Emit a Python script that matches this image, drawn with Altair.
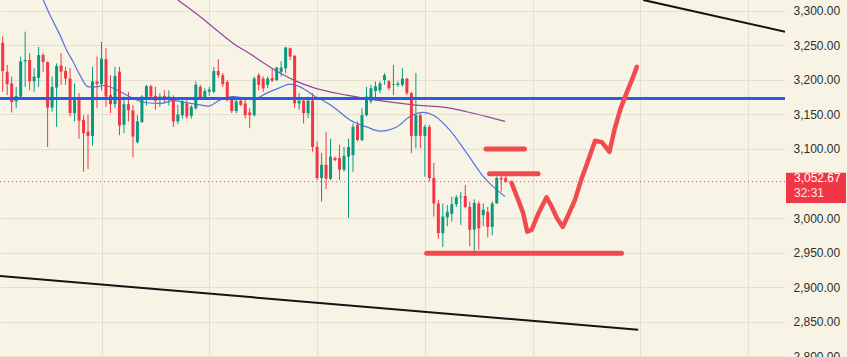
import altair as alt
import pandas as pd

# ---------------- data ----------------
opens = [3254,3212,3195,3169,3176,3227,3229,3198,3203,3236,3226,3160,3189,3221,3213,3202,3152,3173,3142,3125,
         3119,3198,3194,3230,3178,3165,3212,3135,3165,3156,3110,3139,3174,3191,3177,3171,3177,3173,3174,3140,
         3149,3166,3148,3159,3190,3174,3183,3183,3213,3207,3197,3172,3155,3170,3166,3153,3149,3207,3202,3193,
         3203,3200,3212,3217,3246,3235,3166,3170,3152,3170,3103,3058,3077,3057,3087,3087,3070,3089,3091,3135,
         3113,3149,3169,3184,3185,3200,3198,3193,3193,3193,3202,3181,3119,3149,3119,3132,3058,3021,2978,3001,
         3006,3020,3030,3032,3016,2983,3021,3004,3009,2987,3021,3058,3058]
highs = [3263,3222,3205,3190,3234,3270,3239,3217,3248,3239,3227,3205,3224,3239,3219,3217,3195,3181,3149,3150,
         3219,3234,3255,3246,3207,3219,3219,3176,3183,3164,3149,3178,3193,3193,3190,3181,3185,3185,3178,3164,
         3171,3171,3164,3198,3193,3188,3190,3219,3230,3210,3200,3176,3171,3171,3171,3159,3205,3210,3205,3205,
         3217,3219,3227,3248,3247,3236,3181,3171,3176,3181,3111,3094,3125,3115,3089,3106,3103,3115,3137,3140,
         3159,3190,3193,3198,3198,3210,3200,3222,3198,3217,3203,3183,3210,3152,3135,3135,3080,3026,3021,3019,
         3031,3033,3038,3048,3024,3027,3024,3021,3016,3024,3060,3062,3062]
lows = [3183,3178,3153,3159,3174,3190,3185,3183,3190,3212,3103,3154,3132,3193,3193,3147,3140,3115,3067,3071,
        3105,3159,3185,3161,3152,3159,3120,3123,3140,3088,3108,3138,3163,3171,3157,3161,3166,3163,3132,3136,
        3144,3144,3144,3157,3172,3171,3177,3181,3203,3190,3169,3152,3152,3162,3144,3130,3147,3185,3183,3188,
        3197,3198,3205,3210,3229,3159,3157,3137,3145,3096,3055,3024,3042,3055,3082,3055,3067,3000,3067,3111,
        3111,3147,3166,3170,3181,3193,3185,3178,3190,3190,3178,3094,3101,3101,3060,3053,3002,2970,2958,2988,
        2995,3016,2990,3014,2959,2945,2954,2988,2972,2975,3021,3038,3051]
closes = [3213,3194,3168,3177,3227,3229,3198,3205,3236,3226,3160,3190,3220,3212,3202,3152,3173,3141,3123,3119,
          3198,3194,3231,3176,3165,3206,3134,3165,3156,3118,3140,3176,3191,3176,3170,3176,3172,3176,3140,3150,
          3169,3147,3161,3193,3174,3184,3186,3213,3207,3194,3172,3155,3169,3164,3149,3149,3202,3193,3188,3202,
          3199,3218,3218,3247,3234,3166,3170,3152,3170,3103,3058,3077,3057,3089,3084,3070,3090,3103,3132,3113,
          3149,3176,3188,3191,3195,3207,3188,3194,3195,3202,3181,3119,3149,3119,3132,3058,3021,2978,3002,3009,
          3020,3030,3031,3016,2983,3022,2985,3012,2987,3021,3058,3056,3052.67]

# moving averages (bar index, price)
ma_fast_idx = [9.04,10.53,12.76,14.25,15.72,17.21,19.06,20.93,22.40,24.63,27.61,29.84,32.06,35.03,37.99,40.97,
               43.93,45.78,48.39,51.35,52.84,55.80,58.78,61.75,63.97,66.20,69.16,73.61,77.33,81.05,84.01,87.73,
               90.69,93.65,95.88,99.60,103.32,107.02,109.63,111.86]
ma_fast_val = [3316,3294,3265,3243,3226,3207,3190,3190,3192,3188,3178,3171,3167,3166,3170,3167,
               3164,3162,3171,3176,3175,3172,3181,3189,3194,3190,3178,3161,3142,3132,3126,3132,
               3147,3153,3149,3127,3094,3060,3043,3031]
ma_slow_idx = [38.97,43.93,47.65,51.35,55.07,58.03,61.75,65.46,69.16,76.60,84.01,91.43,98.86,103.32,107.77,111.86]
ma_slow_val = [3316,3292,3272,3253,3238,3225,3210,3198,3189,3178,3170,3164,3160,3154,3147,3140]

# horizontal levels
level_blue = 3173
last_price = 3052.67
last_price_text = "3,052.67"
countdown_text = "32:31"

# drawn red segments: start bar, end bar, price
seg_x1 = [107.6, 108.4, 94.4]
seg_x2 = [116.2, 119.2, 137.8]
seg_y = [3100, 3064, 2949]

# hand-drawn projection path
path_idx = [113.3,114.8,115.9,116.8,117.8,119.3,121.1,122.2,123.4,124.7,125.9,127.4,128.9,130.4,131.9,
            133.4,135.1,136.3,137.5,138.9,140.4,141.2]
path_val = [3051,3026,3007,2980,2983,3007,3030,3017,3000,2987,3004,3026,3057,3084,3112,3110,3096,3130,
            3157,3181,3205,3219]

# trend lines
trend_upper_idx = [142.6, 174.2]
trend_upper_val = [3316, 3270]
trend_lower_idx = [-0.6, 141.5]
trend_lower_val = [2916, 2838]

y_ticks = [2800, 2850, 2900, 2950, 3000, 3100, 3150, 3200, 3250, 3300]
x_grid = [22, 46, 70, 94, 118, 142, 166]

# ---------------- styling ----------------
BG = "#F8F4E5"
GRID = "#E4E0CE"
UP = "#089981"
DOWN = "#F23645"
DRAW_RED = "#F24B4F"

X_DOM = [-0.601, 174.19]
Y_DOM = [2798.6, 3315.9]

candles = pd.DataFrame({"idx": list(range(len(opens))), "open": opens, "high": highs,
                        "low": lows, "close": closes})
candles["dir"] = ["up" if c >= o else "down" for o, c in zip(opens, closes)]

xs = alt.Scale(domain=X_DOM, nice=False, zero=False)
ys = alt.Scale(domain=Y_DOM, nice=False, zero=False)
col = alt.Color("dir:N", scale=alt.Scale(domain=["up", "down"], range=[UP, DOWN]), legend=None)

x_axis = alt.Axis(values=x_grid, labels=False, ticks=False, domain=False, grid=True,
                  gridColor=GRID, title=None)
y_axis = alt.Axis(values=y_ticks, orient="right", format=",.2f", labels=True, ticks=False,
                  domain=False, grid=True, gridColor=GRID, labelPadding=8, labelFontSize=12,
                  labelFont="Liberation Sans", labelColor="#2E2E2E", title=None,
                  labelOverlap=False, labelBound=False, labelFlush=False)


def X(field):
    return alt.X(field, scale=xs, axis=x_axis)


def Y(field):
    return alt.Y(field, scale=ys, axis=y_axis)


base = alt.Chart(candles)

wicks = base.mark_rule(strokeWidth=1).encode(
    x=X("idx:Q"), y=Y("low:Q"), y2="high:Q", color=col)
bodies = base.mark_rule(strokeWidth=3, strokeCap="butt").encode(
    x=X("idx:Q"), y=Y("open:Q"), y2="close:Q", color=col)

ma_fast = alt.Chart(pd.DataFrame({"idx": ma_fast_idx, "v": ma_fast_val})).mark_line(
    color="#5374DE", strokeWidth=1.2, clip=True, interpolate="monotone").encode(
    x=X("idx:Q"), y=Y("v:Q"))
ma_slow = alt.Chart(pd.DataFrame({"idx": ma_slow_idx, "v": ma_slow_val})).mark_line(
    color="#93479A", strokeWidth=1.2, clip=True, interpolate="monotone").encode(
    x=X("idx:Q"), y=Y("v:Q"))

blue_level = alt.Chart(pd.DataFrame({"v": [level_blue]})).mark_rule(
    color="#2B5BDE", strokeWidth=3).encode(y=Y("v:Q"))
price_line = alt.Chart(pd.DataFrame({"v": [last_price]})).mark_rule(
    color=DOWN, strokeWidth=1, strokeDash=[1, 3]).encode(y=Y("v:Q"))

segs = alt.Chart(pd.DataFrame({"x1": seg_x1, "x2": seg_x2, "y": seg_y})).mark_rule(
    color=DRAW_RED, strokeWidth=5, strokeCap="round").encode(
    x=X("x1:Q"), x2="x2:Q", y=Y("y:Q"))

path = alt.Chart(pd.DataFrame({"idx": path_idx, "v": path_val, "o": list(range(len(path_idx)))})).mark_line(
    color=DRAW_RED, strokeWidth=4.5, strokeCap="round", strokeJoin="round").encode(
    x=X("idx:Q"), y=Y("v:Q"), order="o:Q")

tr_up = alt.Chart(pd.DataFrame({"idx": trend_upper_idx, "v": trend_upper_val})).mark_line(
    color="#141414", strokeWidth=2, clip=True).encode(x=X("idx:Q"), y=Y("v:Q"))
tr_lo = alt.Chart(pd.DataFrame({"idx": trend_lower_idx, "v": trend_lower_val})).mark_line(
    color="#141414", strokeWidth=2, clip=True).encode(x=X("idx:Q"), y=Y("v:Q"))

lab_df = pd.DataFrame({"p": [last_price], "top": [last_price + 13], "bot": [last_price - 31],
                       "t1": [last_price_text], "t2": [countdown_text]})
lab_box = alt.Chart(lab_df).mark_rect(color=DOWN).encode(
    x=alt.value(786), x2=alt.value(846), y=Y("top:Q"), y2="bot:Q")
lab_t1 = alt.Chart(lab_df).mark_text(align="left", baseline="middle", color="white", fontSize=12,
                                     font="Liberation Sans", dy=-3.5).encode(
    x=alt.value(794), y=Y("p:Q"), text="t1:N")
lab_t2 = alt.Chart(lab_df).mark_text(align="left", baseline="middle", color="#FFE4E6", fontSize=12,
                                     font="Liberation Sans", dy=11).encode(
    x=alt.value(794), y=Y("p:Q"), text="t2:N")

chart = alt.layer(
    wicks, ma_fast, ma_slow, bodies, price_line, blue_level, segs, path, tr_up, tr_lo,
    lab_box, lab_t1, lab_t2
).properties(
    width=785, height=357,
    autosize=alt.AutoSizeParams(type="none"),
    padding={"left": 0, "top": 0, "right": 62, "bottom": 0},
    background=BG,
).configure_view(stroke=None, fill=BG).configure_axis(labelOverlap=False)

chart.save("out.html", embed_options={"renderer": "svg", "actions": False})
